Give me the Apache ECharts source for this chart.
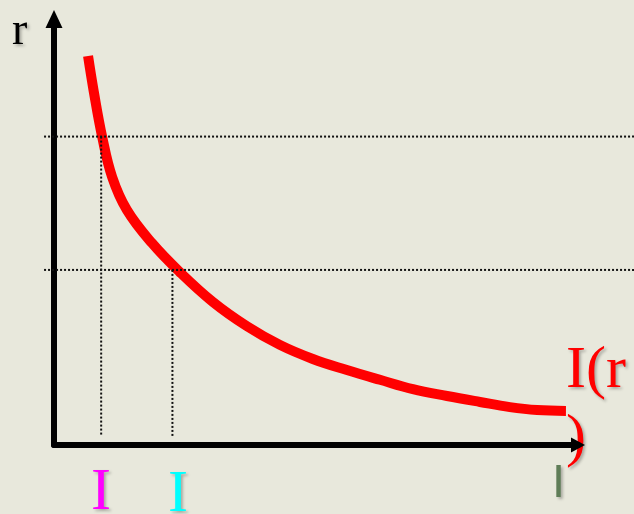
<!DOCTYPE html>
<html>
<head>
<meta charset="utf-8">
<script src="https://cdn.jsdelivr.net/npm/echarts@6/dist/echarts.min.js"></script>
<style>
html,body{margin:0;padding:0;background:#e8e8dc;}
#c{width:634px;height:514px;}
</style>
</head>
<body>
<div id="c"></div>
<script>
// Investment demand curve I(r): x = investment, y = interest rate (arbitrary units 0..100)
const curveX = [6.5, 7.6, 9.2, 11.1, 13.9, 18.7, 24.0, 30.3, 36.8, 43.1, 49.4, 55.9, 62.2, 68.5, 75.0, 81.3, 87.0, 92.2, 97.7];
const curveY = [91.3, 82.9, 72.3, 62.9, 55.2, 47.4, 40.6, 33.6, 27.9, 23.5, 20.2, 17.6, 15.3, 13.1, 11.5, 10.1, 8.9, 8.2, 8.0];

// reference levels: two interest rates and the matching investment levels
const rateLevels = [72.4, 41.1];
const investLevels = [9.0, 22.6];
const guideStartX = -1.9;
const guideBottomY = 2.1;

// layout of the plotting area (pixels)
const W = 634, H = 514;
const G = {left: 54, right: 56, top: 19, bottom: 69};
const pxPerX = (W - G.left - G.right) / 100;
const pxPerY = (H - G.top - G.bottom) / 100;
// an overlay grid over the whole canvas that shares the same data scale (for guides reaching the edge)
const fullXMin = -G.left / pxPerX, fullXMax = 100 + G.right / pxPerX;
const fullYMin = -G.bottom / pxPerY, fullYMax = 100 + G.top / pxPerY;

const chart = echarts.init(document.getElementById('c'), null, {renderer: 'canvas'});

const curveData = curveX.map((x, i) => [x, curveY[i]]);
const dotted = {type: [2, 2], width: 2, color: '#111'};
const guideSeries = [];
rateLevels.forEach((r, i) => {
  guideSeries.push({
    type: 'line', xAxisIndex: 1, yAxisIndex: 1, data: [[guideStartX, r], [fullXMax, r]], clip: false,
    symbol: 'none', lineStyle: dotted, z: 5, silent: true
  });
  guideSeries.push({
    type: 'line', xAxisIndex: 1, yAxisIndex: 1, data: [[investLevels[i], r], [investLevels[i], guideBottomY]], clip: false,
    symbol: 'none', lineStyle: dotted, z: 5, silent: true
  });
});

const shadow = {textShadowColor: 'rgba(0,0,0,0.28)', textShadowBlur: 3, textShadowOffsetX: 2, textShadowOffsetY: 2};
const hidden = {show: false};

chart.setOption({
  backgroundColor: '#e8e8dc',
  animation: false,
  grid: [
    Object.assign({}, G),
    {left: 0, right: 0, top: 0, bottom: 0}
  ],
  xAxis: [
    {
      type: 'value', min: 0, max: 100, gridIndex: 0,
      axisLine: {show: true, symbol: ['none', 'triangle'], symbolSize: [15, 14], lineStyle: {color: '#000', width: 6}},
      axisTick: hidden, axisLabel: hidden, splitLine: hidden
    },
    {type: 'value', gridIndex: 1, min: fullXMin, max: fullXMax, show: false, splitLine: hidden}
  ],
  yAxis: [
    {
      type: 'value', min: 0, max: 100, gridIndex: 0,
      axisLine: {show: true, symbol: ['none', 'triangle'], symbolSize: [17, 18], lineStyle: {color: '#000', width: 6}},
      axisTick: hidden, axisLabel: hidden, splitLine: hidden
    },
    {type: 'value', gridIndex: 1, min: fullYMin, max: fullYMax, show: false, splitLine: hidden}
  ],
  series: [
    {
      type: 'line', xAxisIndex: 0, yAxisIndex: 0, data: curveData, smooth: 0.4,
      symbol: 'none', clip: false,
      lineStyle: {color: '#ff0000', width: 10, cap: 'butt', join: 'round'}, z: 3
    }
  ].concat(guideSeries),
  graphic: [
    {type: 'text', left: 12, top: 9, style: Object.assign({text: 'r', font: '46px "Liberation Serif"', fill: '#000'}, shadow)},
    {type: 'text', left: 566, top: 341, style: Object.assign({text: 'I(r', font: '60px "Liberation Serif"', fill: '#ff0000'}, shadow)},
    {type: 'text', left: 566, top: 409, style: Object.assign({text: ')', font: '60px "Liberation Serif"', fill: '#ff0000'}, shadow)},
    {type: 'text', left: 91, top: 463, style: Object.assign({text: 'I', font: '60px "Liberation Serif"', fill: '#ff00ff'}, shadow)},
    {type: 'text', left: 168, top: 465, style: Object.assign({text: 'I', font: '60px "Liberation Serif"', fill: '#00ffff'}, shadow)},
    {type: 'text', left: 552, top: 461, style: Object.assign({text: 'I', font: '47px "Liberation Sans"', fill: '#5f7d57'}, shadow)}
  ]
});
</script>
</body>
</html>
